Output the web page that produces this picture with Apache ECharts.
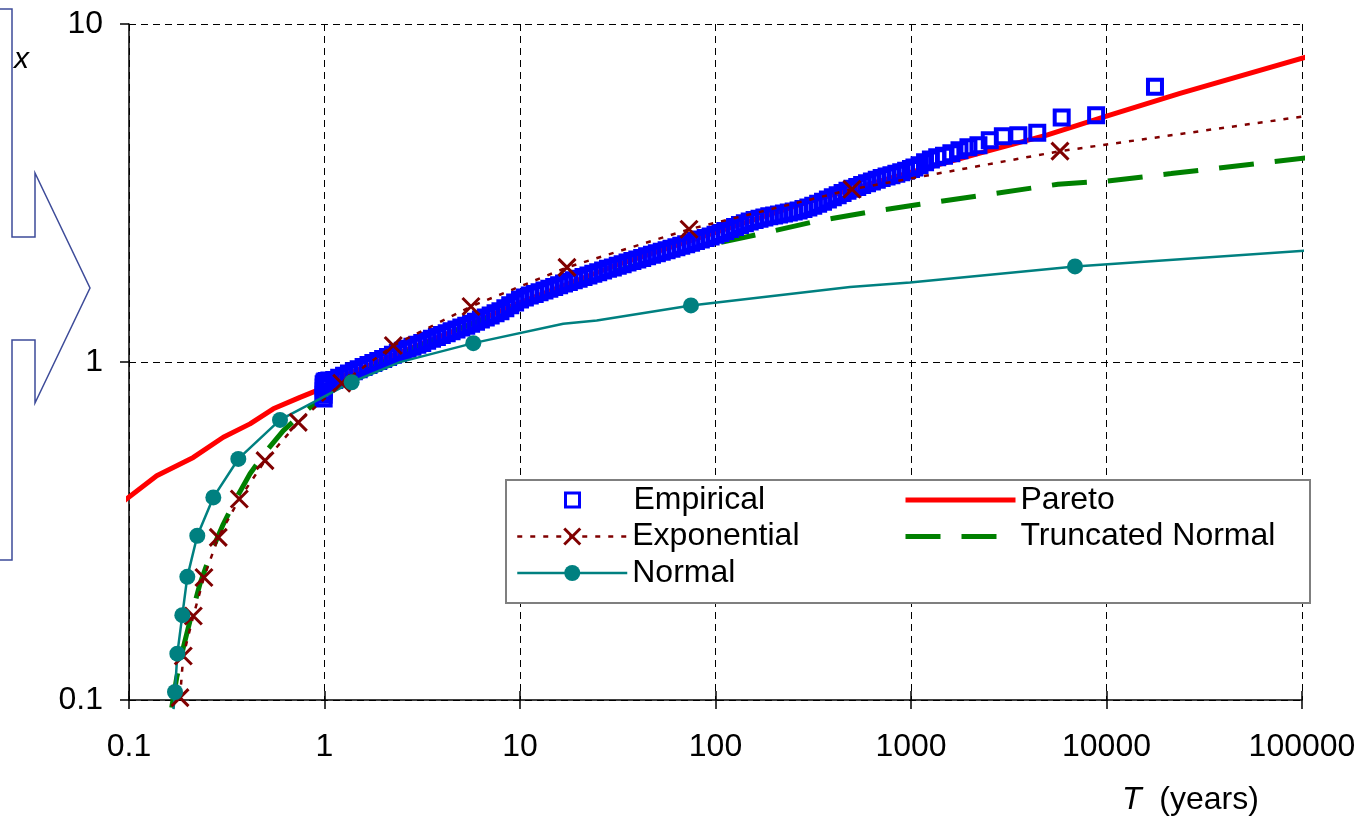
<!DOCTYPE html>
<html>
<head>
<meta charset="utf-8">
<title>Return period plot</title>
<script src="https://cdn.jsdelivr.net/npm/echarts@6/dist/echarts.min.js"></script>
<style>
  html, body { margin: 0; padding: 0; background: #fff; }
  #chart { width: 1367px; height: 819px; }
</style>
</head>
<body>
<div id="chart"></div>
<script>
const FONT = '"Liberation Sans", Arial, sans-serif'

// axis tick labels (one per decade)
const xTickLabels = ['0.1', '1', '10', '100', '1000', '10000', '100000']
const yTickLabels = ['0.1', '1', '10']

// empirical points [T (years), x]
const empirical = [
  [0.99, 0.78], [0.99, 0.80], [0.99, 0.82], [0.99, 0.84], [0.99, 0.86], [1.0, 0.87], [1.01, 0.875], [1.03, 0.879], [1.059, 0.882],
  [1.122, 0.885], [1.189, 0.898], [1.259, 0.911], [1.334, 0.925], [1.413, 0.939], [1.496, 0.952], [1.585, 0.967], [1.679, 0.980],
  [1.778, 0.994], [1.884, 1.007], [1.995, 1.021], [2.113, 1.035], [2.239, 1.050], [2.371, 1.064], [2.512, 1.079], [2.661, 1.094],
  [2.818, 1.109], [2.985, 1.124], [3.162, 1.139], [3.350, 1.155], [3.548, 1.171], [3.758, 1.186], [3.981, 1.202], [4.217, 1.216],
  [4.467, 1.232], [4.732, 1.248], [5.012, 1.264], [5.309, 1.280], [5.623, 1.298], [5.957, 1.316], [6.310, 1.336], [6.683, 1.355],
  [7.079, 1.373], [7.499, 1.393], [7.943, 1.414], [8.414, 1.442], [8.913, 1.471], [9.441, 1.500],
  [10.00, 1.530], [10.59, 1.553], [11.22, 1.572], [11.89, 1.590], [12.59, 1.609], [13.34, 1.628], [14.13, 1.648], [14.96, 1.667],
  [15.85, 1.686], [16.79, 1.706], [17.78, 1.726], [18.84, 1.745], [19.95, 1.764], [21.13, 1.785], [22.39, 1.804], [23.71, 1.824],
  [25.12, 1.844], [26.61, 1.866], [28.18, 1.886], [29.85, 1.905], [31.62, 1.926], [33.50, 1.947], [35.48, 1.969], [37.58, 1.989],
  [39.81, 2.011], [42.17, 2.032], [44.67, 2.054], [47.32, 2.075], [50.12, 2.097], [53.09, 2.118], [56.23, 2.140], [59.57, 2.162],
  [63.10, 2.184], [66.83, 2.207], [70.79, 2.229], [74.99, 2.252], [79.43, 2.279], [84.14, 2.304], [89.13, 2.329], [94.41, 2.353],
  [100.0, 2.379], [105.9, 2.406], [112.2, 2.439], [118.9, 2.474], [125.9, 2.508], [133.4, 2.541], [141.3, 2.573], [149.6, 2.606],
  [158.5, 2.629], [167.9, 2.653], [177.8, 2.676], [188.4, 2.697], [199.5, 2.715], [211.3, 2.732], [223.9, 2.750], [237.1, 2.769],
  [251.2, 2.786], [266.1, 2.806], [281.8, 2.834], [298.5, 2.865], [316.2, 2.897], [335.0, 2.937], [354.8, 2.981], [375.8, 3.026],
  [398.1, 3.070], [421.7, 3.116], [446.7, 3.161], [473.2, 3.209], [501.2, 3.253], [530.9, 3.296], [562.3, 3.339], [595.7, 3.380],
  [631.0, 3.419], [668.3, 3.459], [707.9, 3.500], [749.9, 3.536], [794.3, 3.570], [841.4, 3.604], [891.3, 3.641], [944.1, 3.681],
  [1000, 3.721], [1041, 3.76], [1106, 3.82], [1180, 3.90], [1264, 3.97], [1362, 4.036], [1475, 4.078], [1609, 4.148],
  [1770, 4.233], [1967, 4.321], [2213, 4.38], [2529, 4.532], [2950, 4.658], [3540, 4.689], [4425, 4.764], [5900, 5.29],
  [8850, 5.375], [17700, 6.52]
]

// fitted curves [T, x]
const pareto = [
  [0.092, 0.384], [0.1386, 0.461], [0.2133, 0.522], [0.3036, 0.599], [0.4159, 0.656], [0.547, 0.727], [0.7492, 0.786],
  [0.912, 0.823], [1.2, 0.9], [2, 1.02], [5, 1.26], [10, 1.5], [30, 1.92], [100, 2.42], [300, 2.98], [1000, 3.643],
  [2253, 4.148], [4945, 4.69], [10000, 5.34], [23770, 6.23], [112000, 8.07]
]
const expMarks = [
  [0.1823, 0.1016], [0.1895, 0.135], [0.2133, 0.1773], [0.2418, 0.2303], [0.2862, 0.3027], [0.3666, 0.3932], [0.4962, 0.5106],
  [0.7345, 0.663], [1.2245, 0.8653], [2.248, 1.119], [5.615, 1.46], [17.39, 1.905], [73.2, 2.47], [499, 3.244], [5782, 4.205]
]
const expBends = [[112000, 5.37]]
const normalMarks = [
  [0.1719, 0.1056], [0.1767, 0.1371], [0.1874, 0.1782], [0.1987, 0.2314], [0.2235, 0.3062], [0.27, 0.3975], [0.3623, 0.5166],
  [0.592, 0.674], [1.377, 0.8713], [5.769, 1.137], [74.9, 1.47], [6900, 1.918]
]
const normalBends = [[0.169, 0.094], [2.433, 0.999], [16.65, 1.298], [24.69, 1.327], [487.5, 1.668], [988, 1.72], [112000, 2.14]]
const truncNormal = [
  [0.1654, 0.0949], [0.1754, 0.1165], [0.1895, 0.1429], [0.2051, 0.1714], [0.2307, 0.2207], [0.2649, 0.2763], [0.3037, 0.3315],
  [0.3556, 0.3975], [0.4159, 0.4673], [0.5063, 0.5468], [0.6157, 0.6268], [0.7492, 0.694], [0.912, 0.76], [1.1, 0.84],
  [2, 1.0], [5, 1.26], [10, 1.47], [30, 1.85], [100, 2.244], [172.3, 2.398], [331.7, 2.614], [641.5, 2.792], [1112, 2.928],
  [5648, 3.357], [10000, 3.43], [21400, 3.609], [112000, 4.036]
]

const withMarks = (marks, bends) =>
  marks.map(p => ({ value: p }))
    .concat(bends.map(p => ({ value: p, symbol: 'none' })))
    .sort((a, b) => a.value[0] - b.value[0])

const decade = v => Math.round(Math.log10(v))

const logAxis = (min, max, labels, margin) => ({
  type: 'log',
  logBase: 10,
  min,
  max,
  axisLine: { lineStyle: { color: '#000', width: 1.5 } },
  axisTick: { length: 9, lineStyle: { color: '#000', width: 1.5 } },
  axisLabel: {
    color: '#000',
    fontFamily: FONT,
    fontSize: 32,
    margin,
    formatter: v => labels[decade(v) - decade(min)]
  },
  splitLine: { show: true, lineStyle: { color: '#000', width: 1, type: [7, 5] } },
  minorTick: { show: false }
})

const legendText = { color: '#000', fontFamily: FONT, fontSize: 32, lineHeight: 32 }
const legendBase = { orient: 'vertical', padding: 0, itemGap: 4.5, itemWidth: 110, selectedMode: false, textStyle: legendText, z: 20 }

const chart = echarts.init(document.getElementById('chart'))
chart.setOption({
  animation: false,
  backgroundColor: '#fff',
  grid: { left: 129, right: 65, top: 24, bottom: 119, containLabel: false },
  xAxis: [
    logAxis(0.1, 100000, xTickLabels, 31),
    {
      type: 'log', logBase: 10, min: 0.1, max: 100000, position: 'bottom',
      axisLine: { show: false }, axisLabel: { show: false }, splitLine: { show: false },
      axisTick: { inside: true, length: 9, lineStyle: { color: '#000', width: 1.5 } }
    }
  ],
  yAxis: logAxis(0.1, 10, yTickLabels, 26),
  title: {
    text: '{i|T}  (years)',
    left: 1122,
    top: 784,
    padding: 0,
    textStyle: {
      color: '#000', fontFamily: FONT, fontSize: 32, fontWeight: 'normal', lineHeight: 32,
      rich: { i: { fontStyle: 'italic', fontFamily: FONT, fontSize: 32, color: '#000', lineHeight: 32 } }
    }
  },
  legend: [
    Object.assign({}, legendBase, {
      left: 564, top: 484, itemWidth: 14, itemHeight: 14,
      textStyle: Object.assign({}, legendText, { padding: [0, 0, 0, 49] }),
      data: [{ name: 'Empirical', icon: 'rect', itemStyle: { borderWidth: 3, opacity: 1 } }]
    }),
    Object.assign({}, legendBase, {
      left: 516, top: 520.5, itemHeight: 20,
      data: [
        { name: 'Exponential', itemStyle: { borderWidth: 3 }, lineStyle: { width: 2.5 } },
        { name: 'Normal', lineStyle: { width: 2.5 } }
      ]
    }),
    Object.assign({}, legendBase, {
      left: 903, top: 484, itemHeight: 15,
      data: [
        { name: 'Pareto', itemStyle: { opacity: 0 }, lineStyle: { width: 5 } },
        { name: 'Truncated Normal', itemStyle: { opacity: 0 }, lineStyle: { width: 5 } }
      ]
    })
  ],
  graphic: [
    {
      type: 'polyline',
      silent: true,
      shape: { points: [[0, 9], [12, 9], [12, 237], [35, 237], [35, 173], [90, 288], [35, 403], [35, 340], [12, 340], [12, 560], [0, 560]] },
      style: { stroke: '#3d4b99', lineWidth: 1.5, fill: 'none' }
    },
    {
      type: 'text',
      silent: true,
      x: 14,
      y: 60,
      style: { text: 'x', fontStyle: 'italic', fontSize: 30, fontFamily: FONT, fill: '#000', verticalAlign: 'middle' }
    },
    {
      type: 'rect',
      silent: true,
      z: 10,
      shape: { x: 506, y: 480, width: 804, height: 123 },
      style: { fill: '#fff', stroke: '#7f7f7f', lineWidth: 2 }
    }
  ],
  series: [
    {
      name: 'Pareto', type: 'line', data: pareto, symbol: 'none', clip: false, z: 1, silent: true,
      lineStyle: { color: '#ff0000', width: 5 }, itemStyle: { color: '#ff0000' }
    },
    {
      name: 'Truncated Normal', type: 'line', data: truncNormal, symbol: 'none', clip: false, z: 1, silent: true,
      lineStyle: { color: '#008000', width: 5, type: [35, 21] }, itemStyle: { color: '#008000' }
    },
    {
      name: 'Empirical', type: 'scatter', data: empirical, symbol: 'rect', symbolSize: 14, z: 2, silent: true,
      itemStyle: { color: 'rgba(0,0,0,0)', borderColor: '#0000ff', borderWidth: 4, opacity: 1 }
    },
    {
      name: 'Exponential', type: 'line', data: withMarks(expMarks, expBends), clip: false, z: 3, silent: true,
      symbol: 'path://M0,0L10,10M10,0L0,10', symbolSize: 17,
      lineStyle: { color: '#800000', width: 2.5, type: [5, 8] },
      itemStyle: { color: '#800000', borderColor: '#800000', borderWidth: 3 }
    },
    {
      name: 'Normal', type: 'line', data: withMarks(normalMarks, normalBends), clip: false, z: 3, silent: true,
      symbol: 'circle', symbolSize: 16,
      lineStyle: { color: '#008080', width: 2.5 },
      itemStyle: { color: '#008080', borderWidth: 0 }
    }
  ]
})
</script>
</body>
</html>
